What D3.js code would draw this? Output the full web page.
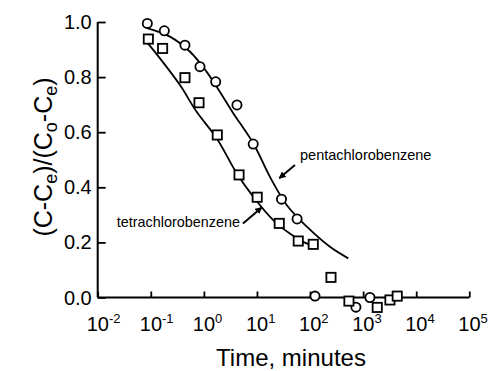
<!DOCTYPE html>
<html>
<head>
<meta charset="utf-8">
<script src="https://cdn.jsdelivr.net/npm/d3@7/dist/d3.min.js"></script>
<style>
  html, body { margin: 0; padding: 0; background: #fff; }
  svg { display: block; }
  text { font-family: "Liberation Sans", Arial, Helvetica, sans-serif; fill: #000; }
</style>
</head>
<body>
<svg id="chart" width="492" height="371"></svg>
<script>
// ---- data ----
const pentaTime = [0.086, 0.18, 0.44, 0.845, 1.67, 4.2, 8.5, 29, 57, 124, 731, 1343];
const pentaFrac = [0.995, 0.968, 0.916, 0.838, 0.783, 0.699, 0.557, 0.357, 0.285, 0.005, -0.035, 0.0];

const tetraTime = [0.09, 0.167, 0.44, 0.81, 1.79, 4.6, 10.1, 26.3, 60, 115, 248, 540, 1845, 3200, 4390];
const tetraFrac = [0.938, 0.904, 0.798, 0.707, 0.590, 0.445, 0.364, 0.269, 0.205, 0.193, 0.073, -0.013, -0.036, -0.009, 0.005];

// fitted model curves (log10 time, fraction)
const pentaFitLogT = [-1.07, -0.64, -0.26, 0.05, 0.30, 0.55, 0.93, 1.245, 1.56, 1.94, 2.375, 2.72];
const pentaFitFrac = [0.978, 0.947, 0.892, 0.820, 0.747, 0.670, 0.560, 0.438, 0.336, 0.257, 0.184, 0.142];

const tetraFitLogT = [-1.077, -0.827, -0.45, -0.136, 0.241, 0.618, 0.93, 1.307, 1.748, 2.0];
const tetraFitFrac = [0.928, 0.868, 0.771, 0.674, 0.578, 0.451, 0.366, 0.281, 0.215, 0.191];

const xTickExps = [-2, -1, 0, 1, 2, 3, 4, 5];
const yTicks = [0.0, 0.2, 0.4, 0.6, 0.8, 1.0];

// annotations in data space: [time, fraction]
const pentaLabelPos = [64.7, 0.499];
const pentaArrow = [[52, 0.481], [26.3, 0.433]];
const tetraLabelPos = [0.0228, 0.257];
const tetraArrow = [[5.45, 0.269], [12.3, 0.327]];

// ---- drawing ----
const svg = d3.select("#chart");
const x = d3.scaleLog().domain([1e-2, 1e5]).range([97.7, 469.3]);
const y = d3.scaleLinear().domain([0, 1]).range([297.5, 22]);

// axes
const gx = svg.append("g").attr("transform", `translate(0,${y(0)})`)
  .call(d3.axisBottom(x).tickValues(xTickExps.map(e => Math.pow(10, e))).tickSize(-6).tickFormat(""));
const gy = svg.append("g").attr("transform", `translate(${x(1e-2)},0)`)
  .call(d3.axisLeft(y).tickValues(yTicks).tickSize(-8).tickFormat(""));
[gx, gy].forEach(g => {
  g.select(".domain").attr("stroke", "#000").attr("stroke-width", 2);
  g.selectAll(".tick line").attr("stroke", "#000").attr("stroke-width", 1.8);
});
gx.select(".domain").attr("d", `M${x(1e-2)},0H${x(1e5)}`);
gy.select(".domain").attr("d", `M0,${y(1)}V${y(0)}`);

// y tick labels
svg.append("g").selectAll("text").data(yTicks).join("text")
  .attr("x", x(1e-2) - 6).attr("y", d => y(d) + 7)
  .attr("text-anchor", "end").attr("font-size", 20)
  .text(d => d.toFixed(1));

// x tick labels with superscripts
const xl = svg.append("g").selectAll("text").data(xTickExps).join("text")
  .attr("x", d => x(Math.pow(10, d)) - 11).attr("y", 331)
  .attr("font-size", 20);
xl.append("tspan").text("10");
xl.append("tspan").attr("dy", -8).attr("font-size", 13).text(d => String(d));

// axis titles
svg.append("text").attr("x", 291).attr("y", 366).attr("text-anchor", "middle")
  .attr("font-size", 24).text("Time, minutes");

const yt = svg.append("text").attr("transform", "translate(52,157) rotate(-90)")
  .attr("text-anchor", "middle").attr("font-size", 25);
yt.append("tspan").text("(C-C");
yt.append("tspan").attr("font-size", 18).attr("dy", 5).text("e");
yt.append("tspan").attr("dy", -5).text(")/(C");
yt.append("tspan").attr("font-size", 18).attr("dy", 5).text("o");
yt.append("tspan").attr("dy", -5).text("-C");
yt.append("tspan").attr("font-size", 18).attr("dy", 5).text("e");
yt.append("tspan").attr("dy", -5).text(")");

// fit curves
const line = d3.line().curve(d3.curveCatmullRom.alpha(0.5));
function drawFit(lt, fr) {
  svg.append("path")
    .attr("d", line(lt.map((v, i) => [x(Math.pow(10, v)), y(fr[i])])))
    .attr("fill", "none").attr("stroke", "#000").attr("stroke-width", 1.8);
}
drawFit(pentaFitLogT, pentaFitFrac);
drawFit(tetraFitLogT, tetraFitFrac);

// markers
svg.append("g").selectAll("circle").data(pentaTime).join("circle")
  .attr("cx", d => x(d)).attr("cy", (d, i) => y(pentaFrac[i])).attr("r", 4.6)
  .attr("fill", "#fff").attr("stroke", "#000").attr("stroke-width", 1.8);
svg.append("g").selectAll("rect").data(tetraTime).join("rect")
  .attr("x", d => x(d) - 4.6).attr("y", (d, i) => y(tetraFrac[i]) - 4.6)
  .attr("width", 9.2).attr("height", 9.2)
  .attr("fill", "#fff").attr("stroke", "#000").attr("stroke-width", 1.8);

// annotations
svg.append("defs").append("marker").attr("id", "ah")
  .attr("viewBox", "0 0 10 10").attr("refX", 9).attr("refY", 5)
  .attr("markerWidth", 7).attr("markerHeight", 7).attr("markerUnits", "userSpaceOnUse")
  .attr("orient", "auto")
  .append("path").attr("d", "M0,0L10,5L0,10Z").attr("fill", "#000");

function arrow(a) {
  svg.append("line")
    .attr("x1", x(a[0][0])).attr("y1", y(a[0][1]))
    .attr("x2", x(a[1][0])).attr("y2", y(a[1][1]))
    .attr("stroke", "#000").attr("stroke-width", 2).attr("marker-end", "url(#ah)");
}
arrow(pentaArrow);
arrow(tetraArrow);

svg.append("text").attr("x", x(pentaLabelPos[0])).attr("y", y(pentaLabelPos[1]))
  .attr("font-size", 14.5).text("pentachlorobenzene");
svg.append("text").attr("x", x(tetraLabelPos[0])).attr("y", y(tetraLabelPos[1]))
  .attr("font-size", 14.4).text("tetrachlorobenzene");
</script>
</body>
</html>
